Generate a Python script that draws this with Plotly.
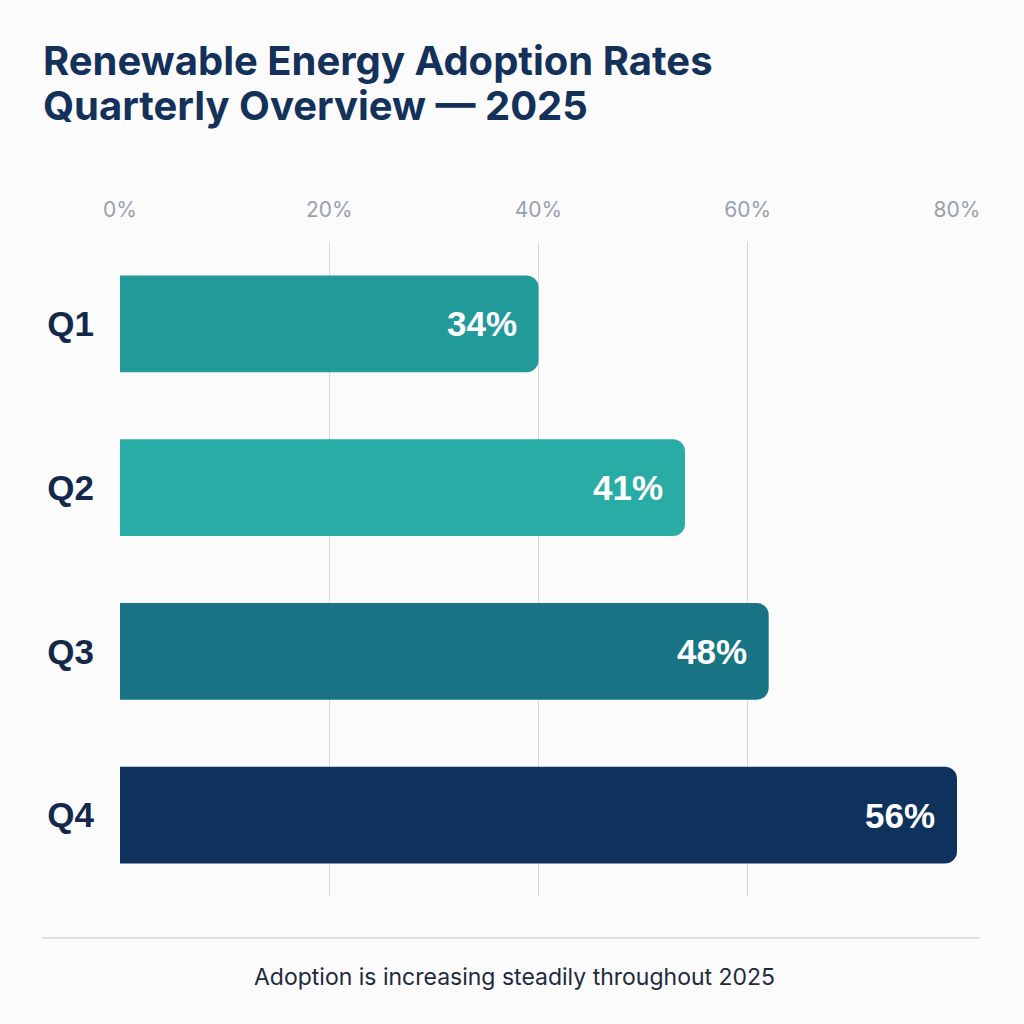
import plotly.graph_objects as go

# Data
quarters = ['Q1', 'Q2', 'Q3', 'Q4']
bar_extent = [40, 54, 62, 80]          # bar length on the % axis as drawn
bar_labels = ['34%', '41%', '48%', '56%']
bar_colors = ['#219a99', '#2aaca6', '#187484', '#0f325d']
tick_vals = [0, 20, 40, 60, 80]
tick_text = ['0%', '20%', '40%', '60%', '80%']

title_lines = ['Renewable Energy Adoption Rates', 'Quarterly Overview — 2025']
caption_text = 'Adoption is increasing steadily throughout 2025'

W, H = 1024, 1024
m_l, m_r, m_t, m_b = 120, 67, 242, 127
plot_w = W - m_l - m_r
plot_h = H - m_t - m_b
BG = '#fbfbfc'


def px_x(px):
    return (px - m_l) / plot_w


def px_y(py):
    return (H - m_b - py) / plot_h


fig = go.Figure()

fig.add_trace(go.Bar(
    x=bar_extent, y=quarters, orientation='h',
    marker=dict(color=bar_colors, line=dict(width=0)),
    hoverinfo='skip', showlegend=False
))

# value labels inside bar ends
for q, v, lab in zip(quarters, bar_extent, bar_labels):
    fig.add_annotation(
        x=v, y=q, text=f'<b>{lab}</b>', showarrow=False,
        xanchor='right', xshift=-20,
        font=dict(family='Liberation Sans, Arial, sans-serif', size=35, color='white')
    )

# title, two lines
for txt, yc in zip(title_lines, [60, 105]):
    fig.add_annotation(
        xref='paper', yref='paper', x=px_x(41), y=px_y(yc),
        text=f'<b>{txt}</b>', showarrow=False, xanchor='left', yanchor='middle',
        font=dict(family='Inter, Liberation Sans, sans-serif', size=40, color='#14315a')
    )

# separator line and caption
fig.add_shape(
    type='line', xref='paper', yref='paper',
    x0=px_x(42), x1=px_x(980), y0=px_y(938), y1=px_y(938),
    line=dict(color='#d3d8de', width=1.5)
)
fig.add_annotation(
    xref='paper', yref='paper', x=px_x(514), y=px_y(977),
    text=caption_text, showarrow=False, xanchor='center', yanchor='middle',
    font=dict(family='Inter, Liberation Sans, sans-serif', size=23, color='#1f2a3a')
)

fig.update_layout(
    width=W, height=H,
    margin=dict(l=m_l, r=m_r, t=m_t, b=m_b),
    paper_bgcolor=BG, plot_bgcolor=BG,
    bargap=0.41, barcornerradius=12,
    xaxis=dict(
        range=[0, 80], side='top', tickvals=tick_vals, ticktext=tick_text,
        showgrid=True, gridcolor='#d5d9df', gridwidth=1, zeroline=False,
        showline=False, ticks='', ticklabelstandoff=20,
        tickfont=dict(family='Inter, Liberation Sans, sans-serif', size=21, color='#9aa0a8'),
        fixedrange=True
    ),
    yaxis=dict(
        categoryorder='array', categoryarray=quarters[::-1],
        showgrid=False, zeroline=False, showline=False, ticks='',
        ticklabelstandoff=25,
        tickfont=dict(family='Liberation Sans, Arial, sans-serif', size=35, color='#13294b', weight='bold'),
        fixedrange=True
    ),
)

fig.write_html(
    'out.html',
    config={'displayModeBar': False},
    post_script=f"document.body.style.margin='0';document.body.style.background='{BG}';"
)
